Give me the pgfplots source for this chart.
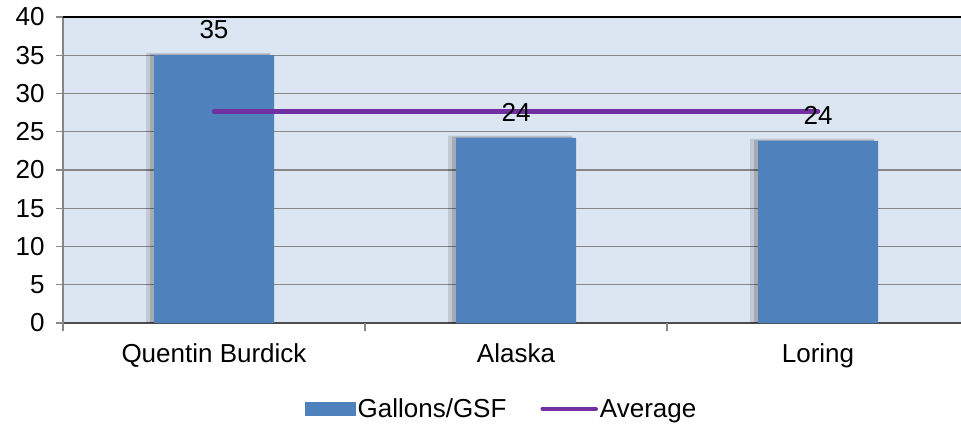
\documentclass[border=0pt]{standalone}
\usepackage{pgfplots}
\pgfplotsset{compat=1.18}
\usepackage{fontspec}
\setmainfont{Liberation Sans}
\definecolor{plotbg}{RGB}{220,230,242}
\definecolor{barblue}{RGB}{79,129,189}
\definecolor{avgpurple}{RGB}{112,48,160}
\definecolor{gridgray}{RGB}{134,134,134}
\begin{document}
\begin{tikzpicture}
\useasboundingbox (0,0) rectangle (961pt,426pt);
\begin{axis}[
  at={(63pt,103pt)}, anchor=south west,
  scale only axis,
  width=906pt, height=306pt,
  font=\fontsize{26}{31}\selectfont,
  /pgf/number format/assume math mode=true,
  axis background/.style={fill=plotbg},
  xmin=-0.5, xmax=2.5,
  ymin=0, ymax=40,
  ytick={0,5,...,40},
  xtick={0,1,2},
  xticklabels={Quentin Burdick, Alaska, Loring},
  major x tick style={draw=none},
  extra x ticks={-0.5,0.5,1.5,2.5},
  extra x tick labels={},
  extra x tick style={major tick length=8pt, major x tick style={draw=gridgray, line width=1.2pt}},
  ymajorgrids,
  grid style={gridgray, line width=1.2pt},
  major y tick style={draw=gridgray, line width=1.2pt},
  tick align=outside,
  major tick length=7pt,
  axis x line*=bottom,
  axis y line*=left,
  axis line style={gridgray, line width=1.5pt},
  x axis line style={black!70, line width=2pt},
  xticklabel style={yshift=-10pt},
  yticklabel style={xshift=-8pt},
  legend columns=2,
  legend style={at={(0.484,-0.281)}, anchor=center, draw=none, fill=none,
    font=\fontsize{26}{31}\selectfont, /tikz/every even column/.append style={column sep=32pt}},
  legend cell align=left,
]
% soft shadow behind the bars
\addplot[ybar, bar width=124pt, bar shift=-6pt, fill=black, fill opacity=0.12, draw=none, forget plot]
  coordinates {(0,35.3) (1,24.5) (2,24.1)};
\addplot[ybar, bar width=120pt, bar shift=-4pt, fill=black, fill opacity=0.15, draw=none, forget plot]
  coordinates {(0,35.15) (1,24.35) (2,23.95)};
\addplot[ybar, bar width=120pt, bar shift=0pt, fill=barblue, draw=none,
  nodes near coords={\pgfmathprintnumber[fixed, precision=0]{\pgfplotspointmeta}},
  nodes near coords style={font=\fontsize{26}{31}\selectfont, /pgf/number format/assume math mode=true, yshift=13pt},
  legend image code/.code={\fill[barblue] (0pt,-7pt) rectangle (51pt,7pt);}]
  coordinates {(0,35) (1,24.2) (2,23.8)};
\addlegendentry{Gallons/GSF}
\addplot[sharp plot, avgpurple, line width=4.5pt, line cap=round, mark=none,
  legend image code/.code={\draw[avgpurple, line width=4.5pt, line cap=round] (2pt,0pt) -- (55pt,0pt);}]
  coordinates {(0,27.67) (1,27.67) (2,27.67)};
\addlegendentry{Average}
\end{axis}
\draw[black, line width=1.5pt] (63pt,409pt) -- (961pt,409pt);
\end{tikzpicture}
\end{document}
